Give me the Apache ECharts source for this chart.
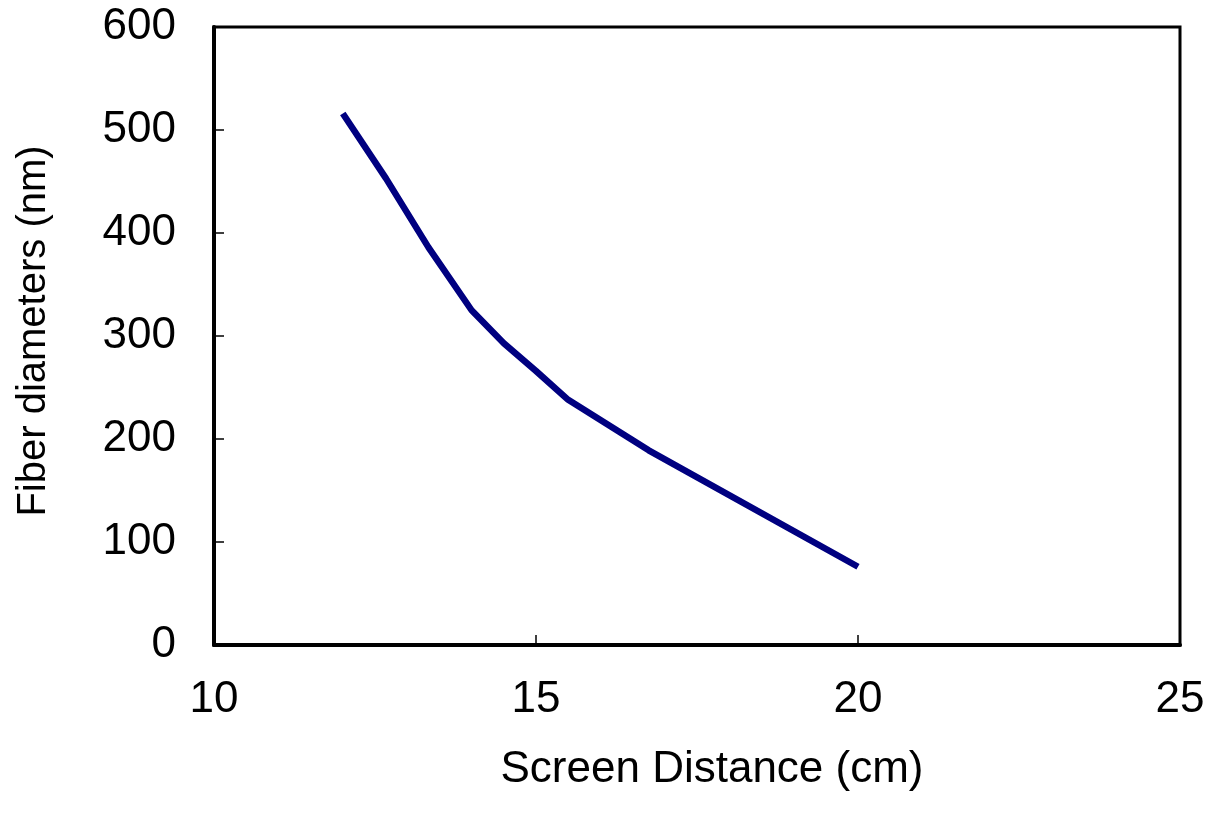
<!DOCTYPE html>
<html>
<head>
<meta charset="utf-8">
<script src="https://cdn.jsdelivr.net/npm/echarts@6/dist/echarts.min.js"></script>
<style>
  html, body { margin: 0; padding: 0; background: #fff; }
  #chart { width: 1205px; height: 818px; }
</style>
</head>
<body>
<div id="chart"></div>
<script>
// screen distance (cm) vs fiber diameter (nm)
var distance = [12, 12.67, 13.33, 14, 14.5, 15, 15.5, 16.75, 20];
var diameter = [516, 453, 386, 325, 293, 266, 238, 189, 76];
var xTicks = [10, 15, 20, 25];
var yTicks = [0, 100, 200, 300, 400, 500, 600];

var chart = echarts.init(document.getElementById('chart'));
var font = 'Liberation Sans, Arial, sans-serif';

chart.setOption({
  animation: false,
  backgroundColor: '#fff',
  grid: {
    left: 214, top: 27, right: 25, bottom: 173,
    outerBoundsMode: 'none', containLabel: false,
    show: true, borderColor: '#000', borderWidth: 3, backgroundColor: 'transparent'
  },
  xAxis: {
    type: 'value',
    min: xTicks[0], max: xTicks[xTicks.length - 1], interval: 5,
    name: 'Screen Distance (cm)',
    nameLocation: 'middle', nameGap: 103,
    // title sits a bit right of the plot centre
    nameTextStyle: { fontFamily: font, fontSize: 44, color: '#000', padding: [0, 0, 0, 30] },
    axisLine: { lineStyle: { color: '#000', width: 4 } },
    axisTick: { inside: true, length: 10, lineStyle: { color: '#000', width: 1.5 } },
    axisLabel: { margin: 33, fontFamily: font, fontSize: 44, color: '#000' },
    splitLine: { show: false }
  },
  yAxis: {
    type: 'value',
    min: yTicks[0], max: yTicks[yTicks.length - 1], interval: 100,
    name: 'Fiber diameters (nm)',
    nameLocation: 'middle', nameGap: 160,
    nameTextStyle: { fontFamily: font, fontSize: 40, color: '#000', padding: [0, 0, 0, 10] },
    axisLine: { lineStyle: { color: '#000', width: 4 } },
    axisTick: { inside: true, length: 10, lineStyle: { color: '#000', width: 1.5 } },
    axisLabel: { margin: 38, fontFamily: font, fontSize: 44, color: '#000' },
    splitLine: { show: false }
  },
  series: [{
    type: 'line',
    data: distance.map(function (d, i) { return [d, diameter[i]]; }),
    showSymbol: false,
    lineStyle: { color: '#000080', width: 6.5 }
  }]
});
</script>
</body>
</html>
